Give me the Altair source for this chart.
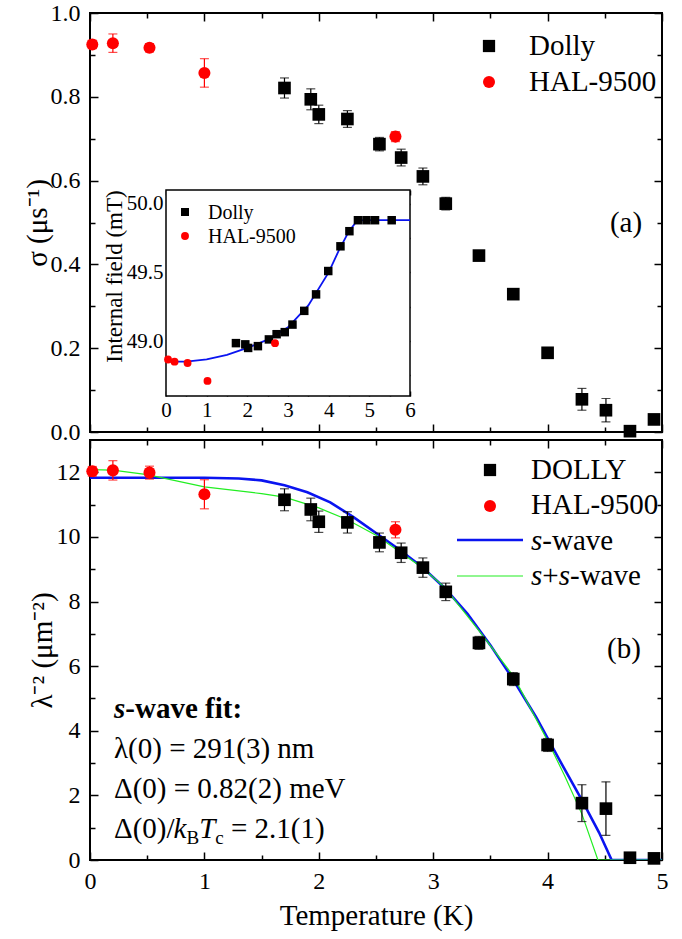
import altair as alt
import pandas as pd

FONT = "Liberation Serif"
RED = "#ff0000"
BLUE = "#0a14f0"
GREEN = "#22ee22"

# ---------------- data: top panel (sigma) ----------------
dolly_T = [1.70, 1.93, 2.00, 2.25, 2.53, 2.72, 2.91, 3.11, 3.40, 3.70, 4.00, 4.30, 4.51, 4.72, 4.93]
dolly_sigma = [0.821, 0.794, 0.758, 0.747, 0.687, 0.655, 0.610, 0.545, 0.421, 0.329, 0.189, 0.078, 0.052, 0.002, 0.030]
dolly_sigma_err = [0.024, 0.025, 0.022, 0.020, 0.016, 0.020, 0.020, 0.015, 0.008, 0.008, 0.008, 0.026, 0.028, 0.006, 0.008]
hal_T = [0.02, 0.20, 0.52, 1.00, 2.67]
hal_sigma = [0.925, 0.928, 0.917, 0.857, 0.705]
hal_sigma_err = [0.010, 0.022, 0.010, 0.034, 0.012]

# ---------------- data: bottom panel (lambda^-2) ----------------
dolly_lam = [11.15, 10.85, 10.47, 10.45, 9.83, 9.51, 9.05, 8.30, 6.72, 5.60, 3.56, 1.76, 1.59, 0.07, 0.05]
dolly_lam_err = [0.34, 0.35, 0.33, 0.33, 0.29, 0.30, 0.30, 0.27, 0.20, 0.20, 0.20, 0.57, 0.83, 0.05, 0.05]
hal_lam = [12.03, 12.06, 11.99, 11.32, 10.22]
hal_lam_err = [0.15, 0.30, 0.20, 0.45, 0.25]

swave_T = [0.0, 1.0, 1.3, 1.5, 1.7, 1.9, 2.1, 2.3, 2.5, 2.7, 2.9, 3.1, 3.3, 3.5, 3.7, 3.9, 4.1, 4.3, 4.45, 4.56, 5.0]
swave_L = [11.83, 11.83, 11.81, 11.75, 11.60, 11.38, 11.07, 10.62, 10.12, 9.62, 9.08, 8.42, 7.62, 6.65, 5.58, 4.42, 3.12, 1.85, 0.85, 0.0, 0.0]
ss_T = [0.0, 0.2, 0.5, 1.0, 1.5, 1.7, 2.0, 2.25, 2.5, 2.7, 2.9, 3.1, 3.4, 3.7, 4.0, 4.15, 4.3, 4.44, 5.0]
ss_L = [12.08, 12.07, 11.93, 11.55, 11.34, 11.23, 10.90, 10.53, 10.05, 9.56, 9.06, 8.44, 7.10, 5.70, 3.69, 2.60, 1.42, 0.0, 0.0]

# ---------------- data: inset (internal field) ----------------
ins_dolly_T = [1.72, 1.95, 2.02, 2.26, 2.53, 2.72, 2.92, 3.11, 3.40, 3.69, 3.99, 4.29, 4.51, 4.72, 4.93, 5.14, 5.55]
ins_dolly_B = [48.985, 48.976, 48.950, 48.963, 49.012, 49.050, 49.065, 49.120, 49.220, 49.340, 49.510, 49.690, 49.800, 49.880, 49.880, 49.880, 49.880]
ins_hal_T = [0.05, 0.21, 0.53, 1.02, 2.68]
ins_hal_B = [48.866, 48.850, 48.840, 48.710, 48.985]
ins_fit_T = [0.0, 0.5, 1.0, 1.5, 2.0, 2.5, 3.0, 3.5, 4.0, 4.25, 4.5, 4.7, 4.85, 6.0]
ins_fit_B = [48.85, 48.85, 48.866, 48.90, 48.95, 49.01, 49.10, 49.26, 49.50, 49.66, 49.80, 49.876, 49.88, 49.88]

# ---------------- ticks ----------------
x_major = [0, 1, 2, 3, 4, 5]
x_minor = [0.5, 1.5, 2.5, 3.5, 4.5]
sig_major = [0.0, 0.2, 0.4, 0.6, 0.8, 1.0]
sig_minor = [0.1, 0.3, 0.5, 0.7, 0.9]
lam_major = [0, 2, 4, 6, 8, 10, 12]
lam_minor = [1, 3, 5, 7, 9, 11]
ins_x_major = [0, 1, 2, 3, 4, 5, 6]
ins_x_minor = [0.5, 1.5, 2.5, 3.5, 4.5, 5.5]
ins_y_major = [49.0, 49.5, 50.0]
ins_y_minor = [48.75, 49.25, 49.75]

W = 572
H_TOP = 419
H_BOT = 420

xs = alt.Scale(domain=[0, 5], nice=False, zero=False)
ys_sig = alt.Scale(domain=[0, 1.0], nice=False, zero=False)
ys_lam = alt.Scale(domain=[0, 13], nice=False, zero=False)
xs_in = alt.Scale(domain=[0, 6], range=[76, 320], nice=False, zero=False)
ys_in = alt.Scale(domain=[48.6, 50.1], range=[383, 177], nice=False, zero=False)


def ax(orient, values, size, labels=False, fmt=None, title=None, lsize=24, pad=0,
       offset=None, tsize=29, tpad=None, extra=None):
    kw = dict(orient=orient, values=values, tickSize={"expr": str(-size)}, ticks=True,
              tickColor="black", tickWidth=1.5, domain=False, grid=False,
              labels=labels, title=title)
    if labels:
        kw.update(labelFont=FONT, labelFontSize=lsize, labelColor="black",
                  labelPadding=pad, labelFlush=False, labelOverlap=False)
        if fmt:
            kw["format"] = fmt
    if offset is not None:
        kw["offset"] = offset
    if title:
        kw.update(titleFont=FONT, titleFontSize=tsize, titleFontWeight="normal",
                  titleColor="black")
        if tpad is not None:
            kw["titlePadding"] = tpad
    if extra:
        kw.update(extra)
    return alt.Axis(**kw)


def axis_layer(xsc, ysc, xaxis, yaxis, x0, y0):
    d = pd.DataFrame({"x": [x0], "y": [y0]})
    return alt.Chart(d).mark_point(opacity=0).encode(
        x=alt.X("x:Q", scale=xsc, axis=xaxis),
        y=alt.Y("y:Q", scale=ysc, axis=yaxis),
    )


def frame_layers(xsc, ysc, xmaj, xmin, ymaj, ymin, xlab, ylab, xfmt, yfmt,
                 xtitle, ytitle, ypad, xpad, ytpad, xtpad, major=8, minor=5,
                 lsize=24, x0=0, y0=0, offs=None, tsize=29, ytitle_extra=None):
    offs = offs or {}
    return [
        axis_layer(xsc, ysc,
                   ax("bottom", xmaj, major, labels=xlab, fmt=xfmt, title=xtitle, lsize=lsize,
                      pad=xpad, tpad=xtpad, offset=offs.get("bottom"), tsize=tsize),
                   ax("left", ymaj, major, labels=ylab, fmt=yfmt, title=ytitle, lsize=lsize,
                      pad=ypad, tpad=ytpad, offset=offs.get("left"), tsize=tsize,
                      extra=ytitle_extra),
                   x0, y0),
        axis_layer(xsc, ysc,
                   ax("bottom", xmin, minor, offset=offs.get("bottom")),
                   ax("left", ymin, minor, offset=offs.get("left")), x0, y0),
        axis_layer(xsc, ysc,
                   ax("top", xmaj, major, offset=offs.get("top")),
                   ax("right", ymaj, major, offset=offs.get("right")), x0, y0),
        axis_layer(xsc, ysc,
                   ax("top", xmin, minor, offset=offs.get("top")),
                   ax("right", ymin, minor, offset=offs.get("right")), x0, y0),
    ]


def err_df(T, v, e):
    return pd.DataFrame({"T": T, "v": v, "lo": [a - b for a, b in zip(v, e)],
                         "hi": [a + b for a, b in zip(v, e)]})


def data_layers(df, xsc, ysc, kind, color, size, cap=9):
    out = [
        alt.Chart(df).mark_rule(color=color, strokeWidth=1.2).encode(
            x=alt.X("T:Q", scale=xsc, axis=None),
            y=alt.Y("lo:Q", scale=ysc, axis=None), y2="hi:Q"),
        alt.Chart(df).mark_tick(color=color, orient="horizontal", size=cap, thickness=1.2).encode(
            x=alt.X("T:Q", scale=xsc, axis=None), y=alt.Y("lo:Q", scale=ysc, axis=None)),
        alt.Chart(df).mark_tick(color=color, orient="horizontal", size=cap, thickness=1.2).encode(
            x=alt.X("T:Q", scale=xsc, axis=None), y=alt.Y("hi:Q", scale=ysc, axis=None)),
    ]
    if kind == "square":
        pm = alt.Chart(df).mark_point(shape="square", filled=True, size=size, color=color, opacity=1)
    else:
        pm = alt.Chart(df).mark_circle(size=size, color=color, opacity=1)
    out.append(pm.encode(x=alt.X("T:Q", scale=xsc, axis=None), y=alt.Y("v:Q", scale=ysc, axis=None)))
    return out


ONE = pd.DataFrame({"a": [0]})


def txt(s, x, y, size=29, style="normal", weight="normal", align="left"):
    return alt.Chart(ONE).mark_text(
        text=s, font=FONT, fontSize=size, fontStyle=style, fontWeight=weight,
        align=align, baseline="alphabetic", color="black").encode(
        x=alt.value(x), y=alt.value(y))


def sym(kind, color, x, y, size):
    if kind == "square":
        m = alt.Chart(ONE).mark_point(shape="square", filled=True, size=size, color=color, opacity=1)
    else:
        m = alt.Chart(ONE).mark_circle(size=size, color=color, opacity=1)
    return m.encode(x=alt.value(x), y=alt.value(y))


def seg(color, x1, x2, y, w):
    return alt.Chart(ONE).mark_rule(color=color, strokeWidth=w).encode(
        x=alt.value(x1), x2=alt.value(x2), y=alt.value(y))


# ---------------- top panel ----------------
top_main = alt.layer(
    *frame_layers(xs, ys_sig, x_major, x_minor, sig_major, sig_minor,
                  False, True, None, ".1f", None, "σ (μs⁻¹)", 18, 17, -2, 8),
    *data_layers(err_df(dolly_T, dolly_sigma, dolly_sigma_err), xs, ys_sig, "square", "black", 160),
    *data_layers(err_df(hal_T, hal_sigma, hal_sigma_err), xs, ys_sig, "circle", RED, 145),
    sym("square", "black", 399, 33, 150),
    sym("circle", RED, 399, 69, 145),
    txt("Dolly", 439, 42),
    txt("HAL-9500", 439, 78),
    txt("(a)", 536, 219, align="center"),
).resolve_axis(x="independent", y="independent")

ins_bounds = pd.DataFrame({"x0": [0], "x1": [6], "y0": [48.6], "y1": [50.1]})
inset_frame = alt.Chart(ins_bounds).mark_rect(fill="white", stroke="black", strokeWidth=1.5).encode(
    x=alt.X("x0:Q", scale=xs_in, axis=None), x2="x1:Q",
    y=alt.Y("y0:Q", scale=ys_in, axis=None), y2="y1:Q")

ins_fit = pd.DataFrame({"T": ins_fit_T, "B": ins_fit_B})
ins_d = pd.DataFrame({"T": ins_dolly_T, "B": ins_dolly_B})
ins_h = pd.DataFrame({"T": ins_hal_T, "B": ins_hal_B})

inset = alt.layer(
    inset_frame,
    *frame_layers(xs_in, ys_in, ins_x_major, ins_x_minor, ins_y_major, ins_y_minor,
                  True, True, "d", ".1f", None, "Internal field (mT)", 8, 8, 0, 0,
                  major=5, minor=3, lsize=21, x0=0, y0=49.0,
                  offs={"bottom": -36, "left": -76, "right": -252, "top": -177},
                  tsize=23, ytitle_extra={"titleY": 263}),
    alt.Chart(ins_fit).mark_line(color=BLUE, strokeWidth=1.8).encode(
        x=alt.X("T:Q", scale=xs_in, axis=None), y=alt.Y("B:Q", scale=ys_in, axis=None)),
    alt.Chart(ins_d).mark_point(shape="square", filled=True, size=72, color="black", opacity=1).encode(
        x=alt.X("T:Q", scale=xs_in, axis=None), y=alt.Y("B:Q", scale=ys_in, axis=None)),
    alt.Chart(ins_h).mark_circle(size=62, color=RED, opacity=1).encode(
        x=alt.X("T:Q", scale=xs_in, axis=None), y=alt.Y("B:Q", scale=ys_in, axis=None)),
    sym("square", "black", 95, 199, 64),
    sym("circle", RED, 95, 223, 62),
    txt("Dolly", 118, 206, size=20),
    txt("HAL-9500", 118, 230, size=20),
).resolve_axis(x="independent", y="independent")

top = alt.layer(top_main, inset).resolve_scale(x="independent", y="independent").properties(
    width=W, height=H_TOP)

# ---------------- bottom panel ----------------
sw = pd.DataFrame({"T": swave_T, "L": swave_L})
ssw = pd.DataFrame({"T": ss_T, "L": ss_L})

bottom = alt.layer(
    *frame_layers(xs, ys_lam, x_major, x_minor, lam_major, lam_minor,
                  True, True, "d", "d", "Temperature (K)", "λ⁻² (μm⁻²)", 18, 17, -1, 8),
    alt.Chart(sw).mark_line(color=BLUE, strokeWidth=2.6, clip=True).encode(
        x=alt.X("T:Q", scale=xs, axis=None), y=alt.Y("L:Q", scale=ys_lam, axis=None)),
    alt.Chart(ssw).mark_line(color=GREEN, strokeWidth=1.2, clip=True).encode(
        x=alt.X("T:Q", scale=xs, axis=None), y=alt.Y("L:Q", scale=ys_lam, axis=None)),
    *data_layers(err_df(dolly_T, dolly_lam, dolly_lam_err), xs, ys_lam, "square", "black", 160),
    *data_layers(err_df(hal_T, hal_lam, hal_lam_err), xs, ys_lam, "circle", RED, 145),
    sym("square", "black", 400, 30, 150),
    sym("circle", RED, 400, 66, 145),
    seg(BLUE, 367, 433, 100, 2.6),
    seg(GREEN, 367, 433, 136, 1.2),
    txt("DOLLY", 441, 39),
    txt("HAL-9500", 441, 74),
    txt("s", 441, 110, style="italic"),
    txt("-wave", 452.3, 110),
    txt("s", 441, 145, style="italic"),
    txt("+", 452.3, 145),
    txt("s", 468.7, 145, style="italic"),
    txt("-wave", 480, 145),
    txt("(b)", 534, 218, align="center"),
    txt("s", 24, 278, style="italic", weight="bold"),
    txt("-wave fit:", 35.3, 278, weight="bold"),
    txt("λ(0) = 291(3) nm", 24, 318),
    txt("Δ(0) = 0.82(2) meV", 24, 358),
    txt("Δ(0)/", 24, 398),
    txt("k", 83.6, 398, style="italic"),
    txt("B", 96.5, 404, size=19),
    txt("T", 109.2, 398, style="italic"),
    txt("c", 125.3, 404, size=19),
    txt("= 2.1(1)", 141, 398),
).resolve_axis(x="independent", y="independent").properties(width=W, height=H_BOT)

chart = alt.vconcat(top, bottom, spacing=8, bounds="flush").properties(
    padding={"left": 22, "top": 0, "right": 10, "bottom": 5},
    background="white",
).configure_view(stroke="black", strokeWidth=2)

chart.save("out.html", embed_options={"renderer": "svg", "actions": False})
